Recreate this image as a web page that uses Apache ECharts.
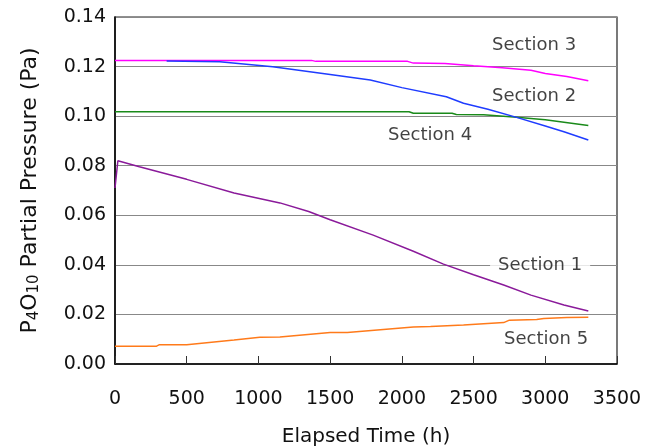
<!DOCTYPE html>
<html><head><meta charset="utf-8">
<script src="https://cdn.jsdelivr.net/npm/echarts@6/dist/echarts.min.js"></script>
<style>html,body{margin:0;padding:0;background:#fff}#c{width:656px;height:448px}</style>
</head><body><div id="c"></div>
<script>
const section1 = [[0,0.071],[20,0.082],[170,0.0796],[500,0.0745],[830,0.069],[1150,0.065],[1350,0.0615],[1500,0.0582],[1800,0.052],[2080,0.0455],[2290,0.0403],[2500,0.036],[2710,0.0319],[2900,0.0278],[3130,0.0238],[3300,0.0214]];
const section2 = [[360,0.1222],[730,0.1219],[1100,0.1199],[1500,0.1168],[1780,0.1146],[2000,0.1115],[2310,0.1078],[2430,0.1052],[2600,0.1028],[2800,0.0995],[3000,0.096],[3130,0.0937],[3300,0.0904]];
const section3 = [[0,0.1225],[1370,0.1225],[1400,0.1221],[2040,0.1221],[2080,0.1214],[2300,0.1212],[2500,0.1203],[2700,0.1195],[2900,0.1185],[3000,0.1172],[3150,0.116],[3300,0.1143]];
const section4 = [[0,0.1018],[2050,0.1018],[2080,0.1012],[2350,0.1012],[2380,0.1007],[2570,0.1006],[2800,0.0996],[3000,0.0985],[3300,0.0962]];
const section5 = [[0,0.0072],[290,0.0072],[310,0.0078],[500,0.0078],[830,0.0097],[1010,0.0108],[1150,0.0109],[1500,0.0127],[1620,0.0127],[2080,0.0149],[2200,0.0151],[2430,0.0157],[2710,0.0167],[2750,0.0177],[2940,0.018],[2990,0.0184],[3150,0.0188],[3300,0.0189]];
const labelNames = ['Section 3','Section 2','Section 4','Section 1','Section 5'];
const labelPos = [[2922,0.1287],[2922,0.1081],[2197,0.0924],[2964,0.040],[3006,0.0101]];

const FONT = '"DejaVu Sans", sans-serif';
const chart = echarts.init(document.getElementById('c'), null, {renderer:'canvas'});
function line(name, data, color){
  return {name, type:'line', data, showSymbol:false, symbol:'none', lineStyle:{color, width:1.5}, itemStyle:{color}, animation:false, z:3};
}
chart.setOption({
  animation:false,
  grid:{left:115, right:39, top:17, bottom:84, show:true, borderColor:'#222', borderWidth:1.2, containLabel:false, outerBoundsMode:'none'},
  xAxis:{type:'value', min:0, max:3500, interval:500,
    axisLine:{show:true, lineStyle:{color:'#000', width:1.5}},
    axisTick:{show:true, inside:true, length:8, lineStyle:{color:'#333'}},
    axisLabel:{fontFamily:FONT, fontSize:19, color:'#111', margin:26, formatter:v=>String(v)},
    splitLine:{show:false},
    name:'Elapsed Time (h)', nameLocation:'middle', nameGap:63,
    nameTextStyle:{fontFamily:FONT, fontSize:20, color:'#111'}},
  yAxis:{type:'value', min:0, max:0.14, interval:0.02,
    axisLine:{show:true, lineStyle:{color:'#000', width:1.5}},
    axisTick:{show:false},
    axisLabel:{fontFamily:FONT, fontSize:19, color:'#111', margin:9, formatter:v=>v.toFixed(2)},
    splitLine:{show:true, lineStyle:{color:'#888', width:1}},
    name:'{a|P}{s|4}{a|O}{s|10}{a| Partial Pressure (Pa)}', nameLocation:'middle', nameGap:73,
    nameTextStyle:{fontFamily:FONT, fontSize:22, color:'#111',
      rich:{a:{fontFamily:FONT, fontSize:22, color:'#111'}, s:{fontFamily:FONT, fontSize:15, color:'#111', verticalAlign:'bottom', padding:[8,0,0,0]}}}},
  series:[
    line('Section 3', section3, '#ff00ff'),
    line('Section 4', section4, '#1a8a1a'),
    line('Section 2', section2, '#1f3cff'),
    line('Section 1', section1, '#8a1a9a'),
    line('Section 5', section5, '#ff7a1a'),
    {type:'scatter', symbolSize:0, z:5, silent:true,
      data: labelPos.map((p,i)=>({value:p, name:labelNames[i],
        label: i===3 ? {backgroundColor:'#fff', padding:[2,8]} : {}})),
      label:{show:true, position:'inside', formatter:p=>p.name, fontFamily:FONT, fontSize:18, color:'#111'}}
  ]
});
</script></body></html>
